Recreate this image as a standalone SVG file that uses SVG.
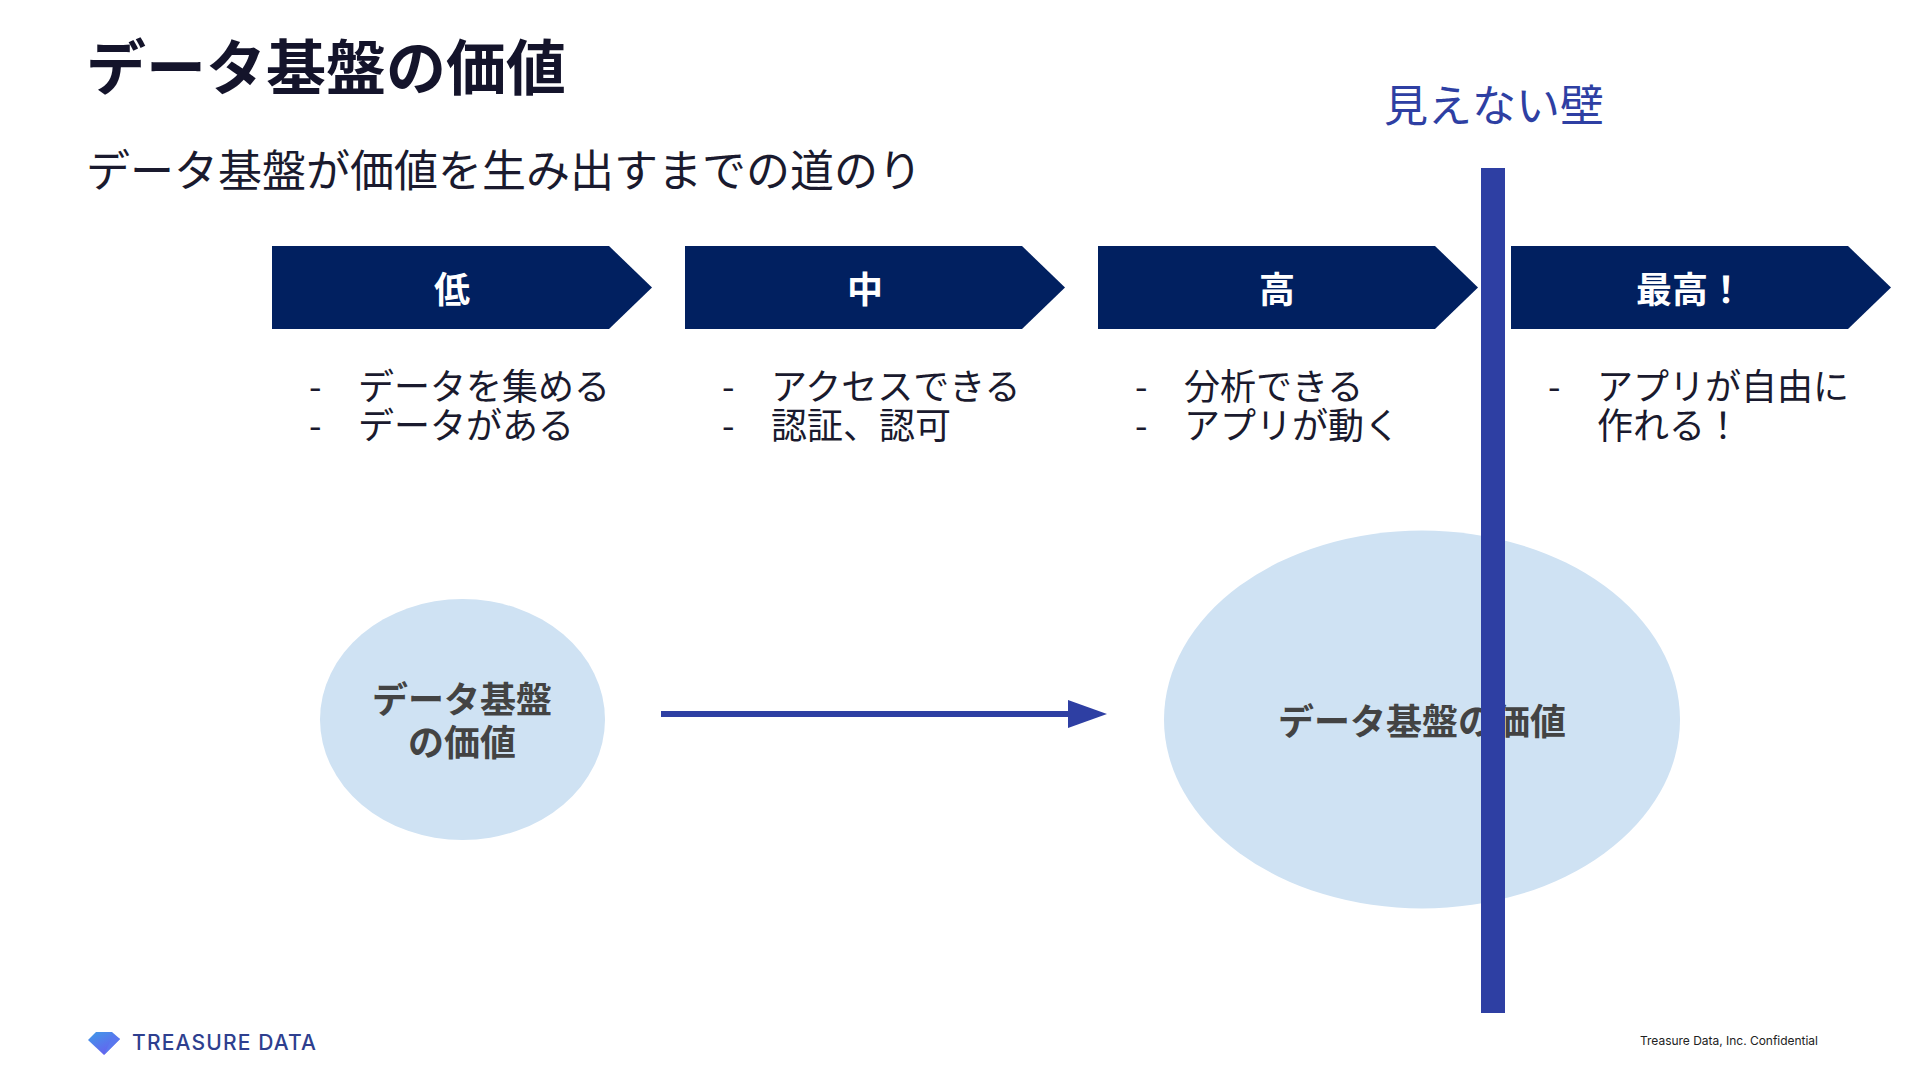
<svg xmlns="http://www.w3.org/2000/svg" width="1920" height="1080" viewBox="0 0 1920 1080">
<defs>
<linearGradient id="gem" x1="0" y1="0" x2="0.700" y2="1"><stop offset="0" stop-color="#3f9be8"/><stop offset="1" stop-color="#6a5cf0"/></linearGradient>
<polygon id="chev" points="0,0 337,0 380,41.500 337,83 0,83"/>
</defs>
<style>
text{font-family:"Noto Sans CJK JP","Noto Sans",sans-serif}
.ch{fill:#012060}
.cl{font-size:36px;font-weight:700;fill:#fff;text-anchor:middle}
.it{font-size:36px;fill:#1a1a2e}
.el{fill:#cfe2f3}
.et{font-size:36px;font-weight:700;fill:#434343;text-anchor:middle}
</style>
<rect width="1920" height="1080" fill="#fff"/>
<text id="title" x="86" y="90" font-size="60" font-weight="700" fill="#14142b">データ基盤の価値</text>
<text id="subtitle" x="86" y="187" font-size="44" fill="#1a1a2e">データ基盤が価値を生み出すまでの道のり</text>
<g id="stage-low"><use href="#chev" class="ch" x="272" y="246"/><text class="cl" x="452" y="303">低</text>
<text class="it"><tspan x="309" y="400">-</tspan><tspan x="358" y="400">データを集める</tspan><tspan x="309" y="439">-</tspan><tspan x="358" y="439">データがある</tspan></text></g>
<g id="stage-mid"><use href="#chev" class="ch" x="685" y="246"/><text class="cl" x="865" y="303">中</text>
<text class="it"><tspan x="722" y="400">-</tspan><tspan x="771" y="400">アクセスできる</tspan><tspan x="722" y="439">-</tspan><tspan x="771" y="439">認証、認可</tspan></text></g>
<g id="stage-high"><use href="#chev" class="ch" x="1098" y="246"/><text class="cl" x="1277" y="303">高</text>
<text class="it"><tspan x="1135" y="400">-</tspan><tspan x="1184" y="400">分析できる</tspan><tspan x="1135" y="439">-</tspan><tspan x="1184" y="439">アプリが動く</tspan></text></g>
<g id="stage-best"><use href="#chev" class="ch" x="1511" y="246"/><text class="cl" x="1690" y="303">最高！</text>
<text class="it"><tspan x="1548" y="400">-</tspan><tspan x="1597" y="400">アプリが自由に</tspan><tspan x="1597" y="439">作れる！</tspan></text></g>
<g id="value-small"><ellipse class="el" cx="462.500" cy="719.500" rx="142.500" ry="120.500"/><text class="et"><tspan x="462" y="713">データ基盤</tspan><tspan x="462" y="756">の価値</tspan></text></g>
<g id="value-large"><ellipse class="el" cx="1422" cy="719.500" rx="258" ry="189"/><text class="et" x="1422" y="735">データ基盤の価値</text></g>
<g id="connectors"><line x1="661" y1="714" x2="1070" y2="714" stroke="#2e3fa3" stroke-width="6"/><polygon points="1068,700 1107,714 1068,728" fill="#2e3fa3"/></g>
<g id="wall"><rect x="1481" y="168" width="24" height="845" fill="#2e3fa3"/><text x="1494" y="122" font-size="44" fill="#2e3fa3" text-anchor="middle">見えない壁</text></g>
<g id="logo"><path d="M88 1040L96 1032H112L120 1039L104 1055Z" fill="url(#gem)"/><path d="M104 1055L120 1039L113 1035Z" fill="#5a78ee"/><text x="132" y="1050" style="font-family:Inter,sans-serif" font-size="21" font-weight="500" textLength="184" lengthAdjust="spacing" fill="#2e3f8f">TREASURE DATA</text></g>
<text id="confidential" x="1640" y="1045" style="font-family:Inter,sans-serif" font-size="12" textLength="178" fill="#222">Treasure Data, Inc. Confidential</text>
</svg>
